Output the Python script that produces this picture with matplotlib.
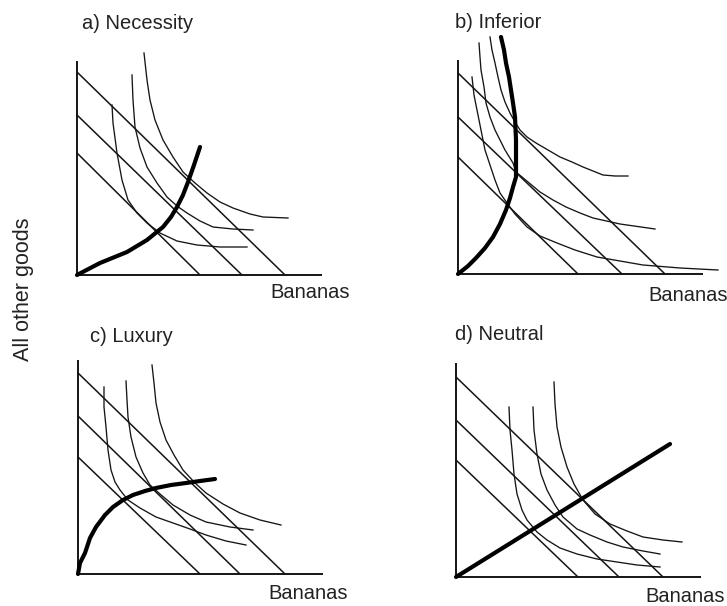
import matplotlib

matplotlib.use("Agg")
import matplotlib.pyplot as plt

plt.rcParams["font.family"] = ["Liberation Sans", "DejaVu Sans"]

# figure size in pixels (dpi 100)
W, H = 727, 606

TITLES = ["a) Necessity", "b) Inferior", "c) Luxury", "d) Neutral"]
X_LABEL = "Bananas"
Y_LABEL = "All other goods"

# axis lengths (same units as the curves below)
AXIS_TOP = 214
AXIS_RIGHT = 245

# budget lines: intercept on "all other goods" axis and on "bananas" axis
NEC_BUDGET_Y0 = [203, 160, 122]
NEC_BUDGET_X0 = [208, 165, 123]
INF_BUDGET_Y0 = [201, 157, 117]
INF_BUDGET_X0 = [207, 164, 120]
LUX_BUDGET_Y0 = [201, 158, 117]
LUX_BUDGET_X0 = [207, 162, 122]
NEU_BUDGET_Y0 = [200, 157, 117]
NEU_BUDGET_X0 = [207, 163, 122]

# indifference curves (lowest first)
NEC_IC_X = [
    [35, 36, 40, 45, 51, 60, 70, 83, 100, 120, 143, 170],
    [55, 56, 58, 63, 70, 80, 90, 100, 110, 123, 136, 156, 176],
    [67, 70, 73, 78, 86, 96, 106, 118, 130, 143, 156, 173, 186, 211],
]
NEC_IC_Y = [
    [170, 152, 122, 95, 75, 62, 52, 42, 34, 30, 28, 28],
    [200, 175, 148, 127, 108, 92, 78, 69, 62, 54, 48, 46, 45],
    [222, 195, 175, 155, 135, 118, 103, 92, 82, 73, 67, 61, 58, 57],
]
INF_IC_X = [
    [14, 16, 19, 23, 27, 32, 37, 42, 49, 57, 69, 82, 99, 117, 139, 162, 185, 222, 260],
    [21, 22, 23, 26, 28, 32, 37, 47, 55, 58, 70, 82, 95, 108, 122, 135, 162, 197],
    [32, 34, 37, 40, 43, 47, 52, 57, 62, 69, 78, 90, 102, 114, 125, 145, 157, 170],
]
INF_IC_Y = [
    [197, 179, 164, 144, 124, 109, 94, 81, 71, 60, 47, 38, 31, 24, 17, 13, 9, 6, 4],
    [231, 217, 204, 187, 171, 157, 144, 124, 111, 102, 92, 82, 74, 67, 61, 56, 50, 45],
    [237, 224, 211, 197, 184, 172, 161, 152, 144, 137, 131, 124, 117, 112, 107, 99, 98, 98],
]
LUX_IC_X = [
    [26, 26, 28, 30, 33, 37, 42, 50, 62, 78, 95, 112, 128, 148, 168],
    [48, 49, 50, 53, 58, 65, 72, 82, 95, 112, 128, 152, 175],
    [74, 76, 78, 82, 88, 96, 105, 117, 128, 145, 162, 182, 203],
]
LUX_IC_Y = [
    [187, 167, 147, 124, 104, 92, 84, 74, 66, 57, 51, 45, 39, 33, 29],
    [193, 174, 157, 137, 117, 101, 89, 80, 69, 59, 52, 47, 44],
    [209, 191, 171, 152, 134, 119, 104, 91, 81, 70, 61, 54, 49],
]
NEU_IC_X = [
    [53, 54, 56, 58, 61, 66, 71, 81, 91, 104, 121, 141, 161, 181, 204],
    [77, 78, 81, 85, 91, 99, 107, 121, 134, 151, 167, 187, 204],
    [98, 99, 101, 105, 111, 118, 127, 139, 154, 171, 187, 207, 226],
]
NEU_IC_Y = [
    [170, 147, 127, 103, 83, 67, 57, 45, 37, 29, 23, 18, 15, 12, 10],
    [170, 147, 123, 103, 87, 72, 60, 48, 42, 35, 30, 26, 23],
    [195, 173, 150, 130, 110, 93, 77, 63, 53, 46, 40, 37, 35],
]

# income expansion paths
NEC_PATH_X = [0, 23, 50, 70, 86, 94, 100, 106, 111, 117, 123]
NEC_PATH_Y = [0, 12, 23, 35, 48, 58, 68, 80, 93, 110, 128]
INF_PATH_X = [43, 46, 48, 51, 53, 55, 57, 58, 58, 58, 55, 52, 48, 42, 35, 27, 18, 10, 0]
INF_PATH_Y = [237, 224, 211, 197, 184, 171, 157, 134, 114, 97, 87, 76, 64, 50, 37, 26, 16, 8, 0]
LUX_PATH_X = [0, 2, 7, 12, 18, 27, 35, 45, 55, 67, 78, 93, 108, 122, 137]
LUX_PATH_Y = [0, 11, 21, 36, 47, 59, 67, 74, 79, 83, 86, 89, 91, 93, 95]
NEU_PATH_X = [0, 214]
NEU_PATH_Y = [0, 133]

INK = "#151515"
TEXT = "#222222"
XLIM = (-60, 275)
YLIM = (-40, 265)


def panel_axes(fig, ox, oy):
    left, right = ox + XLIM[0], ox + XLIM[1]
    top, bottom = oy - YLIM[1], oy - YLIM[0]
    ax = fig.add_axes([left / W, 1 - bottom / H, (right - left) / W, (bottom - top) / H])
    ax.set_xlim(*XLIM)
    ax.set_ylim(*YLIM)
    ax.axis("off")
    ax.patch.set_alpha(0)
    return ax


def draw_panel(ax, title, title_xy, label_xy, budget_y0, budget_x0, ic_x, ic_y, path_x, path_y):
    ax.plot([0, 0], [0, AXIS_TOP], color=INK, lw=1.4, solid_capstyle="butt")
    ax.plot([0, AXIS_RIGHT], [0, 0], color=INK, lw=1.4, solid_capstyle="butt")
    for y0, x0 in zip(budget_y0, budget_x0):
        ax.plot([0, x0], [y0, 0], color=INK, lw=1.1)
    for xs, ys in zip(ic_x, ic_y):
        ax.plot(xs, ys, color=INK, lw=0.95, solid_joinstyle="round")
    ax.plot(path_x, path_y, color="#000000", lw=3.0, solid_capstyle="round", solid_joinstyle="round")
    ax.text(*title_xy, title, fontsize=14.5, color=TEXT, ha="left", va="baseline")
    ax.text(*label_xy, X_LABEL, fontsize=14.5, color=TEXT, ha="left", va="baseline",
            clip_on=False)


def main() -> None:
    fig = plt.figure(figsize=(W / 100, H / 100), dpi=100)

    ax = panel_axes(fig, 77, 275)
    draw_panel(ax, TITLES[0], (5, 246), (193, -23), NEC_BUDGET_Y0, NEC_BUDGET_X0,
               NEC_IC_X, NEC_IC_Y, NEC_PATH_X, NEC_PATH_Y)

    ax = panel_axes(fig, 458, 274)
    draw_panel(ax, TITLES[1], (-3, 246), (190, -27), INF_BUDGET_Y0, INF_BUDGET_X0,
               INF_IC_X, INF_IC_Y, INF_PATH_X, INF_PATH_Y)

    ax = panel_axes(fig, 78, 574)
    draw_panel(ax, TITLES[2], (12, 232), (190, -25), LUX_BUDGET_Y0, LUX_BUDGET_X0,
               LUX_IC_X, LUX_IC_Y, LUX_PATH_X, LUX_PATH_Y)

    ax = panel_axes(fig, 456, 577)
    draw_panel(ax, TITLES[3], (-1, 237), (189, -25), NEU_BUDGET_Y0, NEU_BUDGET_X0,
               NEU_IC_X, NEU_IC_Y, NEU_PATH_X, NEU_PATH_Y)

    fig.text(24 / W, 1 - 289 / H, Y_LABEL, rotation=90, fontsize=15.5, color=TEXT,
             ha="center", va="center")

    fig.savefig("out.png", dpi=100, facecolor="white")
    plt.close(fig)


if __name__ == "__main__":
    main()
